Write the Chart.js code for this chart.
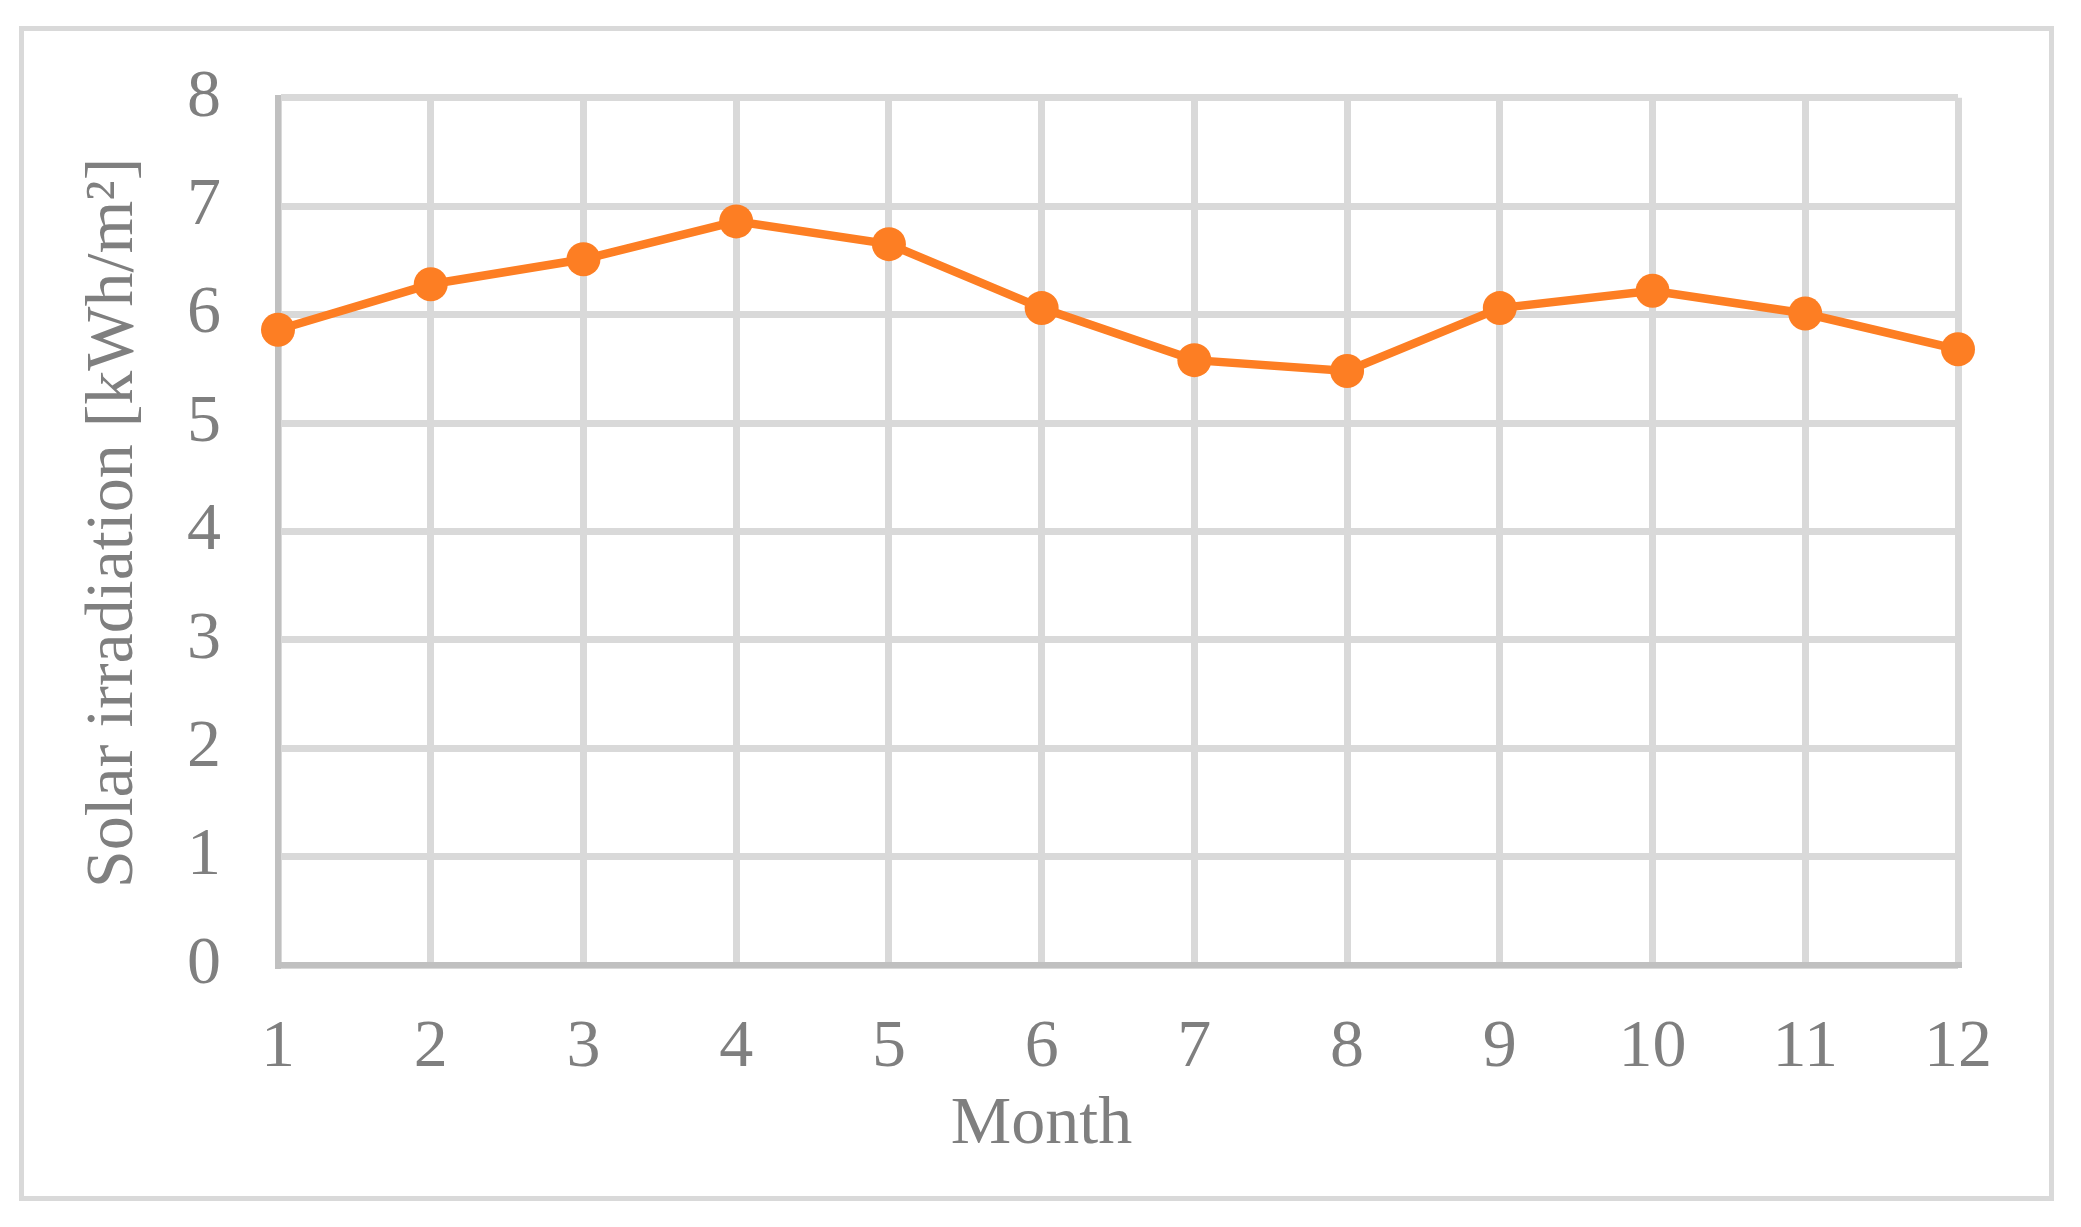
<!DOCTYPE html>
<html>
<head>
<meta charset="utf-8">
<script src="https://cdn.jsdelivr.net/npm/chart.js@4.4.1/dist/chart.umd.min.js"></script>
<style>
  html, body { margin: 0; padding: 0; background: #ffffff; }
  #wrap { position: relative; width: 2081px; height: 1227px; }
  #frame {
    position: absolute; left: 19px; top: 26px;
    width: 2025px; height: 1165px;
    border: 5px solid #d9d9d9;
    pointer-events: none;
  }
  canvas { position: absolute; left: 0; top: 0; }
</style>
</head>
<body>
<div id="wrap">
  <canvas id="chart" width="2081" height="1227"></canvas>
  <div id="frame"></div>
</div>
<script>
// datos
const months = ['1','2','3','4','5','6','7','8','9','10','11','12'];
const irradiation = [5.86, 6.28, 6.51, 6.86, 6.65, 6.06, 5.58, 5.48, 6.06, 6.22, 6.01, 5.68];
const yTicks = [0, 1, 2, 3, 4, 5, 6, 7, 8];

const grey = '#7f7f7f';
const serif = "'Liberation Serif', 'Times New Roman', serif";

const ctx = document.getElementById('chart').getContext('2d');

const chart = new Chart(ctx, {
  type: 'line',
  data: {
    labels: months,
    datasets: [{
      label: 'Solar irradiation',
      data: irradiation,
      borderColor: '#fd7e23',
      backgroundColor: '#fd7e23',
      borderWidth: 8.5,
      pointRadius: 17,
      pointBorderWidth: 0,
      tension: 0,
      clip: false
    }]
  },
  options: {
    responsive: false,
    animation: false,
    layout: { padding: { left: 40, top: 93, right: 123, bottom: 56 } },
    plugins: { legend: { display: false }, tooltip: { enabled: false } },
    scales: {
      x: {
        offset: false,
        grid: { color: '#d9d9d9', lineWidth: 7, drawTicks: false },
        border: { color: '#c0c0c0', width: 6 },
        ticks: { color: grey, font: { family: serif, size: 68 }, padding: 42, maxRotation: 0 },
        title: {
          display: true,
          text: 'Month\u00a0\u00a0\u00a0\u00a0\u00a0\u00a0\u00a0\u00a0\u00a0',
          color: grey,
          font: { family: serif, size: 68 },
          padding: { top: 0, bottom: 5 }
        },
        afterFit: s => { s.height = 206; }
      },
      y: {
        min: 0,
        max: 8,
        afterBuildTicks: s => { s.ticks = yTicks.map(v => ({ value: v })); },
        grid: { color: '#d9d9d9', lineWidth: 7, drawTicks: false },
        border: { color: '#c0c0c0', width: 6 },
        ticks: { color: grey, font: { family: serif, size: 68 }, padding: 57 },
        title: {
          display: true,
          text: '\u00a0Solar irradiation [kWh/m²]',
          color: grey,
          font: { family: serif, size: 68 },
          padding: { top: 33, bottom: 0 }
        },
        afterFit: s => { s.width = 238; }
      }
    }
  }
});
</script>
</body>
</html>
